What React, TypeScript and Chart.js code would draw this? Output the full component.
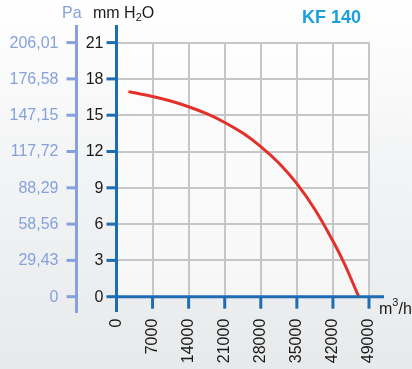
import React, { useEffect, useRef } from 'react';
import { Chart, registerables } from 'chart.js';

Chart.register(...registerables);

const flowValues = [2300, 3500, 7000, 10500, 14000, 17500, 21000, 24500, 28000, 31500, 35000, 38500, 42000, 44200, 45600, 47000];
const pressureValues = [16.95, 16.85, 16.54, 16.17, 15.7, 15.12, 14.4, 13.52, 12.41, 11.05, 9.34, 7.21, 4.6, 2.76, 1.4, 0];
const xTickValues = [0, 7000, 14000, 21000, 28000, 35000, 42000, 49000];
const mmTickValues = [0, 3, 6, 9, 12, 15, 18, 21];
const paTickLabels = ['0', '29,43', '58,56', '88,29', '117,72', '147,15', '176,58', '206,01'];

const FONT = "'Liberation Sans', Arial, sans-serif";
const BLUE = '#1d6db3';
const PA_BLUE = '#86a1dc';

const decorPlugin = {
  id: 'decor',
  beforeDraw(chart: any) {
    const { ctx, chartArea } = chart;
    ctx.save();
    ctx.fillStyle = 'rgba(255,255,255,0.55)';
    ctx.fillRect(chartArea.left, chartArea.top, chartArea.right - chartArea.left, chartArea.bottom - chartArea.top);
    ctx.restore();
  },
  afterDatasetsDraw(chart: any) {
    const { ctx } = chart;
    const xs = chart.scales.x;
    const ys = chart.scales.y;
    const x0 = xs.getPixelForValue(0);
    const y0 = ys.getPixelForValue(0);
    const paX = x0 - 40;
    const line = (a: number, b: number, c: number, d: number) => {
      ctx.beginPath();
      ctx.moveTo(a, b);
      ctx.lineTo(c, d);
      ctx.stroke();
    };
    ctx.save();
    // Pa axis
    ctx.strokeStyle = PA_BLUE;
    ctx.lineWidth = 3;
    line(paX, 25, paX, 313);
    mmTickValues.forEach((v) => {
      const y = ys.getPixelForValue(v);
      line(paX - 10, y, paX, y);
    });
    // mm axis
    ctx.strokeStyle = BLUE;
    ctx.lineWidth = 3;
    line(x0, 25, x0, 312);
    line(x0, y0, 384, y0);
    mmTickValues.forEach((v) => {
      const y = ys.getPixelForValue(v);
      line(x0 - 10, y, x0, y);
    });
    xTickValues.forEach((v) => {
      const x = xs.getPixelForValue(v);
      line(x, y0, x, y0 + 12);
    });

    // labels
    ctx.textBaseline = 'middle';
    ctx.textAlign = 'right';
    ctx.font = `16px ${FONT}`;
    mmTickValues.forEach((v, i) => {
      const y = ys.getPixelForValue(v);
      ctx.fillStyle = '#1a1a1a';
      ctx.fillText(String(v), x0 - 13, y + 0.5);
      ctx.fillStyle = PA_BLUE;
      ctx.fillText(paTickLabels[i], paX - 18, y + 0.5);
    });
    ctx.fillStyle = '#1a1a1a';
    xTickValues.forEach((v) => {
      const x = xs.getPixelForValue(v);
      ctx.save();
      ctx.translate(x, y0 + 22);
      ctx.rotate(-Math.PI / 2);
      ctx.textAlign = 'right';
      ctx.textBaseline = 'middle';
      ctx.fillText(String(v), 0, 0);
      ctx.restore();
    });

    // axis titles
    ctx.textBaseline = 'alphabetic';
    ctx.textAlign = 'left';
    ctx.font = `16px ${FONT}`;
    ctx.fillStyle = PA_BLUE;
    ctx.fillText('Pa', 62, 18);
    ctx.fillStyle = '#1a1a1a';
    let tx = 93;
    ctx.fillText('mm H', tx, 18);
    tx += ctx.measureText('mm H').width;
    ctx.font = `11px ${FONT}`;
    ctx.fillText('2', tx, 21);
    tx += ctx.measureText('2').width;
    ctx.font = `16px ${FONT}`;
    ctx.fillText('O', tx, 18);

    // unit
    let ux = 379;
    ctx.fillText('m', ux, 314);
    ux += ctx.measureText('m').width;
    ctx.font = `11px ${FONT}`;
    ctx.fillText('3', ux, 306);
    ux += ctx.measureText('3').width;
    ctx.font = `16px ${FONT}`;
    ctx.fillText('/h', ux, 314);

    // title
    ctx.font = `bold 18px ${FONT}`;
    ctx.fillStyle = '#1aa0da';
    ctx.fillText('KF 140', 302, 23);
    ctx.restore();
  },
};

export default function App() {
  const ref = useRef<HTMLCanvasElement | null>(null);
  useEffect(() => {
    document.body.style.margin = '0';
    if (!ref.current) return;
    const chart = new Chart(ref.current, {
      type: 'line',
      data: {
        datasets: [
          {
            data: flowValues.map((x, i) => ({ x, y: pressureValues[i] })),
            borderColor: '#e3312a',
            borderWidth: 3,
            pointRadius: 0,
            tension: 0.4,
            fill: false,
          },
        ],
      },
      options: {
        animation: false,
        responsive: false,
        devicePixelRatio: 1,
        layout: { padding: { left: 116.5, right: 43, top: 42.6, bottom: 72.3 } },
        plugins: { legend: { display: false }, tooltip: { enabled: false }, title: { display: false } },
        scales: {
          x: {
            type: 'linear',
            min: 0,
            max: 49000,
            afterFit: (s: any) => { s.height = 0; },
            ticks: { display: false, stepSize: 7000 },
            grid: { color: '#c6c6c6', lineWidth: 2, drawTicks: false },
            border: { display: false },
          },
          y: {
            type: 'linear',
            min: 0,
            max: 21,
            afterFit: (s: any) => { s.width = 0; },
            ticks: { display: false, stepSize: 3 },
            grid: { color: '#c6c6c6', lineWidth: 2, drawTicks: false },
            border: { display: false },
          },
        },
      } as any,
      plugins: [decorPlugin],
    });
    return () => chart.destroy();
  }, []);
  return (
    <div
      style={{
        position: 'relative',
        width: 412,
        height: 369,
        background: 'linear-gradient(180deg, #ffffff 0%, #f3f4f5 45%, #e8e9ea 100%)',
      }}
    >
      <canvas ref={ref} width={412} height={369} style={{ display: 'block' }} />
    </div>
  );
}
